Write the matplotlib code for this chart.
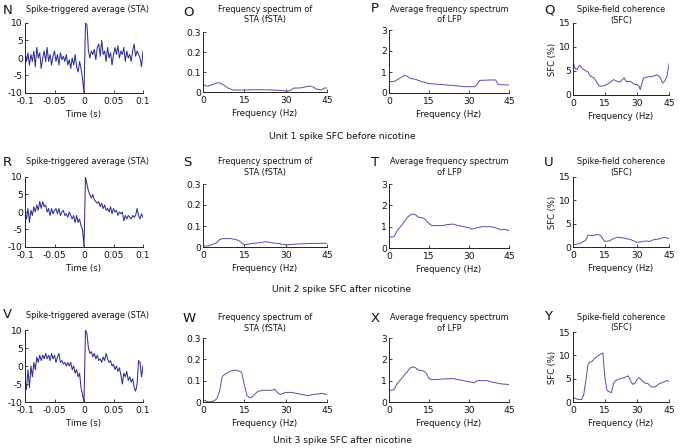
import numpy as np
import matplotlib
matplotlib.use("Agg")
import matplotlib.pyplot as plt

plt.rcParams['font.family'] = ['DejaVu Sans']
plt.rcParams['axes.unicode_minus'] = False

W, H = 685, 448

# ---------------- data ----------------
sta_t_start = -0.1
sta_t_step = 0.0025

sta_unit1 = [2, -1, 1.5, -2, 1, -1, 2, -2.5, 3, 0,
             1.5, -3, 0, 2, -1, 3, -1, 1, -2, 0.5,
             2, -1, 1, -2, 1.5, -0.5, 0.5, -1, 1, -2,
             -0.5, -3, 0, -2, 1, -2.5, -4, -1, -3, -6,
             -10,
             10, 9.5, 2, 0, 2, 1, 2.5, -0.5, 3, 4,
             0.5, 5, 1, 2, -1, 3, 0, 1.5, -2, 1,
             3, 1, 3.5, 0, 2, 1, 3, -1, 2, 0,
             1, -1, 2, 4, 0.5, 2, 1, 0, -2.5, 2]

sta_unit2 = [0, -2, 1, -3, 0.5, -1, 1.5, 0, 2, 0.5,
             3, 1, 3, 1.5, 2, 0, 1, -1, 1, -0.5,
             0.5, 1, -0.5, 1, -1, 0, 0.5, -1, -0.5, -1.5,
             0, -1, -2, -1, -3, -1, -3, -2, -4, -5,
             -10,
             10, 8, 6, 5, 4, 5, 3.5, 3, 2.5, 3,
             1.5, 2.5, 1, 2, 0.5, 1, 0, 1.5, -0.5, 1,
             0, 0.5, -1, 0, -0.5, 0, -2.5, -1, -2, -1,
             -1.5, -2, -1, -1.5, -1, 1, -1, -2, -0.5, -1.5]

sta_unit3 = [-4, -6.5, -1, -6, 0, -3, 1, -1, 2.5, 1,
             3, 1.5, 3, 2, 3.5, 2, 3, 1.5, 3.5, 2,
             3, 1, 2.5, 3.5, 1, 1.5, 0.5, 1, 0, 1,
             0, 1, -1, 0, -2, -1, -3, -2, -6, -8,
             -10,
             10, 9, 5, 3.5, 4, 2.5, 3.5, 2, 3, 1.5,
             2, 1, 2.5, 1.5, 3.5, 2, 1, 1.5, 0, 0.5,
             -1, 0, -1.5, -0.5, -2.5, -5, -2, -3, -1.5, -4,
             -3, -4.5, -3.5, -6, -7, -5, 1.5, 1, -3, 0]

# fSTA spectra
fsta1_f = [0, 1, 2, 3, 4, 5, 6, 7, 8, 9, 10, 11, 12, 15, 20, 25, 28, 30, 31, 32, 33, 35, 37, 39, 40, 41, 43, 44, 45]
fsta1_v = [0.04, 0.03, 0.03, 0.035, 0.04, 0.045, 0.045, 0.04, 0.03, 0.02, 0.015, 0.01, 0.01, 0.01, 0.012, 0.01, 0.008,
           0.005, 0.005, 0.01, 0.02, 0.02, 0.025, 0.03, 0.025, 0.015, 0.01, 0.02, 0.02]

fsta2_f = [0, 2, 3, 5, 6, 7, 10, 12, 13, 14, 15, 17, 20, 23, 25, 28, 30, 32, 35, 40, 45]
fsta2_v = [0.005, 0.005, 0.01, 0.02, 0.035, 0.04, 0.04, 0.035, 0.03, 0.02, 0.01, 0.015, 0.02, 0.025, 0.02, 0.015,
           0.01, 0.012, 0.015, 0.017, 0.018]

fsta3_f = [0, 2, 4, 5, 6, 7, 8, 10, 12, 13, 14, 15, 16, 17, 18, 19, 20, 22, 25, 26, 27, 28, 29, 30, 32, 34, 36, 38,
           40, 43, 45]
fsta3_v = [0.01, 0.0, 0.005, 0.015, 0.05, 0.12, 0.13, 0.145, 0.15, 0.145, 0.14, 0.08, 0.03, 0.02, 0.025, 0.04, 0.05,
           0.055, 0.055, 0.06, 0.045, 0.035, 0.04, 0.045, 0.045, 0.04, 0.035, 0.03, 0.035, 0.04, 0.035]

# LFP spectra
lfp1_f = [0, 2, 6, 8, 10, 12, 15, 20, 25, 28, 32, 33, 34, 38, 40, 41, 45]
lfp1_v = [0.55, 0.55, 0.85, 0.7, 0.65, 0.55, 0.45, 0.4, 0.35, 0.3, 0.3, 0.4, 0.6, 0.62, 0.62, 0.4, 0.38]

lfp2_f = [0, 1, 2, 3, 5, 7, 8, 9, 10, 11, 13, 15, 16, 18, 20, 22, 24, 26, 28, 30, 31, 33, 35, 38, 40, 42, 43, 45]
lfp2_v = [0.55, 0.5, 0.55, 0.8, 1.1, 1.45, 1.55, 1.6, 1.55, 1.45, 1.4, 1.15, 1.05, 1.05, 1.05, 1.1, 1.12, 1.05, 1.0,
          0.95, 0.88, 0.95, 1.0, 1.0, 0.95, 0.85, 0.88, 0.82]

lfp3_f = [0, 1, 2, 3, 5, 7, 8, 9, 10, 11, 13, 14, 15, 16, 18, 20, 24, 26, 28, 30, 32, 33, 35, 37, 38, 40, 42, 45]
lfp3_v = [0.55, 0.55, 0.6, 0.85, 1.15, 1.45, 1.6, 1.65, 1.6, 1.5, 1.45, 1.35, 1.1, 1.05, 1.05, 1.08, 1.1, 1.05, 1.0,
          0.95, 0.9, 1.0, 1.0, 1.0, 0.95, 0.9, 0.85, 0.82]

# SFC (%)
sfc1_f = [0, 1, 2, 3, 5, 7, 8, 10, 12, 13, 15, 17, 19, 21, 22, 24, 25, 27, 29, 30, 31, 31.5, 33, 35, 37, 39, 40, 41,
          42, 43, 44, 45]
sfc1_v = [7, 5.5, 5.3, 6.2, 5.3, 4.8, 4, 3.5, 2.0, 1.8, 2.0, 2.5, 3.2, 2.8, 2.7, 3.6, 2.8, 2.8, 2.2, 2.2, 1.8, 1.1,
          3.5, 3.8, 3.8, 4.2, 4.0, 3.5, 2.5, 2.8, 3.8, 6.5]

sfc2_f = [0, 3, 5, 6, 7, 10, 11, 13, 14, 15, 17, 19, 21, 24, 27, 29, 30, 32, 34, 36, 38, 40, 43, 45]
sfc2_v = [0.5, 0.7, 1.2, 1.5, 2.5, 2.5, 2.7, 2.5, 1.7, 1.2, 1.3, 1.8, 2.1, 1.9, 1.6, 1.2, 1.0, 1.1, 1.3, 1.2, 1.6,
          1.7, 2.1, 1.8]

sfc3_f = [0, 2, 4, 5, 6, 7, 8, 9, 10, 12, 13, 14, 15, 16, 17, 18, 19, 20, 22, 24, 25, 26, 27, 28, 29, 30, 31, 32,
          33, 34, 35, 36, 37, 38, 39, 40, 42, 44, 45]
sfc3_v = [1.0, 0.6, 0.5, 1.5, 4.5, 8.0, 8.6, 8.7, 9.3, 10.0, 10.3, 10.5, 5, 2.5, 2.2, 2.0, 4.0, 4.6, 5.0, 5.2, 5.4,
          5.6, 4.5, 3.8, 4.0, 4.8, 5.2, 4.8, 4.3, 4.0, 4.0, 3.5, 3.2, 3.2, 3.4, 3.8, 4.2, 4.6, 4.4]

sta_xticks = [-0.1, -0.05, 0, 0.05, 0.1]
sta_xticklabels = ['-0.1', '-0.05', '0', '0.05', '0.1']
sta_yticks = [-10, -5, 0, 5, 10]
freq_ticks = [0, 15, 30, 45]
fsta_yticks = [0, 0.1, 0.2, 0.3]
fsta_yticklabels = ['0', '0.1', '0.2', '0.3']
lfp_yticks = [0, 1, 2, 3]
sfc_yticks = [0, 5, 10, 15]

row_letters = [['N', 'O', 'P', 'Q'], ['R', 'S', 'T', 'U'], ['V', 'W', 'X', 'Y']]
row_captions = ['Unit 1 spike SFC before nicotine', 'Unit 2 spike SFC after nicotine',
                'Unit 3 spike SFC after nicotine']
sta_title = 'Spike-triggered average (STA)'
fsta_title = 'Frequency spectrum of\nSTA (fSTA)'
lfp_title = 'Average frequency spectrum\nof LFP'
sfc_title = 'Spike-field coherence\n(SFC)'

sta_data = [sta_unit1, sta_unit2, sta_unit3]
fsta_data = [(fsta1_f, fsta1_v), (fsta2_f, fsta2_v), (fsta3_f, fsta3_v)]
lfp_data = [(lfp1_f, lfp1_v), (lfp2_f, lfp2_v), (lfp3_f, lfp3_v)]
sfc_data = [(sfc1_f, sfc1_v), (sfc2_f, sfc2_v), (sfc3_f, sfc3_v)]

# ---------------- layout (pixels) ----------------
col_x = [(25, 143), (203, 327), (389, 509), (573, 669)]
row_y = [
    [(23, 93), (32, 92), (30, 93), (23, 95)],
    [(177, 247), (184, 247), (184, 248), (177, 247)],
    [(330, 402), (338, 402), (338, 402), (332, 402)],
]
letter_pos = [
    [(3, 10), (183, 12), (371, 9), (544, 10)],
    [(3, 162), (183, 162), (371, 162), (544, 162)],
    [(3, 315), (183, 318), (371, 318), (544, 317)],
]
title_y = [[10, 9, 9, 10], [162, 162, 162, 162], [315, 318, 318, 317]]
caption_y = [136, 289, 440]

STA_COLOR = '#2f2f8f'
SPEC_COLOR = '#5050a8'
TXT = '#111111'

fig = plt.figure(figsize=(W / 100, H / 100), dpi=100)


def px_axes(x0, x1, y0, y1):
    return fig.add_axes([x0 / W, 1 - y1 / H, (x1 - x0) / W, (y1 - y0) / H])


def style(ax):
    for s in ['top', 'right']:
        ax.spines[s].set_visible(False)
    for s in ['left', 'bottom']:
        ax.spines[s].set_linewidth(0.7)
        ax.spines[s].set_color('#222222')
    ax.tick_params(direction='in', length=2, width=0.6, labelsize=6.6, pad=1.5, colors='#222222',
                   labelcolor=TXT)
    ax.tick_params(axis='x', pad=2.8)


for r in range(3):
    for c in range(4):
        x0, x1 = col_x[c]
        y0, y1 = row_y[r][c]
        ax = px_axes(x0, x1, y0, y1)
        style(ax)
        if c == 0:
            vals = np.array(sta_data[r], dtype=float)
            t = sta_t_start + sta_t_step * np.arange(len(vals))
            ax.plot(t, vals, color=STA_COLOR, lw=0.75)
            ax.set_xlim(-0.1, 0.1)
            ax.set_ylim(-10, 10)
            ax.set_xticks(sta_xticks)
            ax.set_xticklabels(sta_xticklabels)
            ax.set_yticks(sta_yticks)
            ax.set_xlabel('Time (s)', fontsize=6.2, labelpad=3, color=TXT)
            title = sta_title
        else:
            if c == 1:
                f, v = fsta_data[r]
                ax.set_ylim(0, 0.3)
                ax.set_yticks(fsta_yticks)
                ax.set_yticklabels(fsta_yticklabels)
                title = fsta_title
            elif c == 2:
                f, v = lfp_data[r]
                ax.set_ylim(0, 3)
                ax.set_yticks(lfp_yticks)
                title = lfp_title
            else:
                f, v = sfc_data[r]
                ax.set_ylim(0, 15)
                ax.set_yticks(sfc_yticks)
                ax.set_ylabel('SFC (%)', fontsize=6.0, labelpad=2, color=TXT)
                title = sfc_title
            ax.plot(f, v, color=SPEC_COLOR, lw=0.7)
            ax.set_xlim(0, 45)
            ax.set_xticks(freq_ticks)
            ax.set_xlabel('Frequency (Hz)', fontsize=6.2, labelpad=3, color=TXT)
        # title
        cx = (x0 + x1) / 2 + (4 if c == 0 else 0)
        ty = title_y[r][c]
        fig.text(cx / W, 1 - (ty - 4.5) / H, title, ha='center', va='top', fontsize=5.9,
                 color=TXT, linespacing=1.2)
        lx, ly = letter_pos[r][c]
        fig.text(lx / W, 1 - ly / H, row_letters[r][c], ha='left', va='center', fontsize=9.5, color=TXT)
    fig.text(342 / W, 1 - caption_y[r] / H, row_captions[r], ha='center', va='center', fontsize=6.6, color=TXT)

fig.savefig('out.png', dpi=100, facecolor='white')
